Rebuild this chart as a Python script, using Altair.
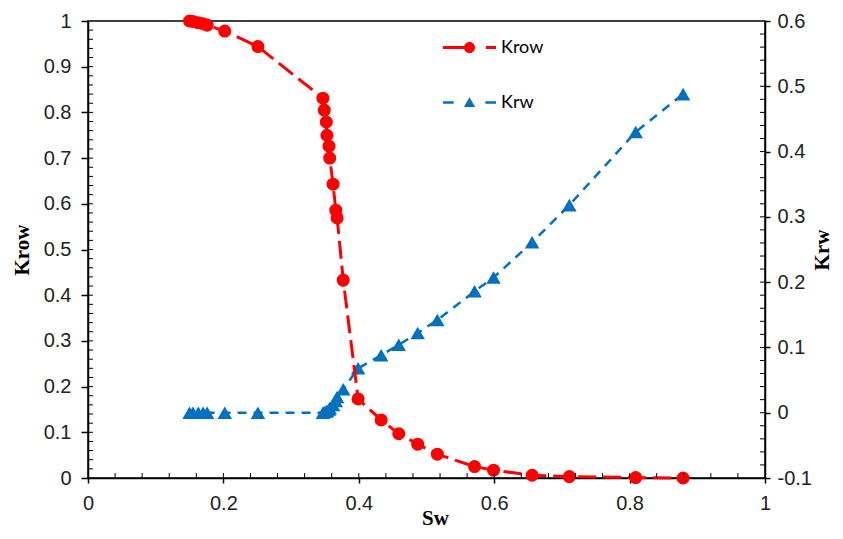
import altair as alt
import pandas as pd

# ---- data ----
sw = [0.150, 0.155, 0.163, 0.170, 0.176, 0.202, 0.251, 0.347, 0.349, 0.352,
      0.353, 0.356, 0.357, 0.362, 0.366, 0.368, 0.377, 0.399, 0.433, 0.459,
      0.487, 0.516, 0.571, 0.599, 0.656, 0.711, 0.809, 0.879]
krow = [1.0, 0.999, 0.996, 0.994, 0.991, 0.978, 0.944, 0.831, 0.805, 0.779,
        0.750, 0.726, 0.700, 0.643, 0.586, 0.569, 0.433, 0.173, 0.127, 0.097,
        0.074, 0.052, 0.025, 0.017, 0.006, 0.003, 0.001, 0.0]
krw = [0.0, 0.0, 0.0, 0.0, 0.0, 0.0, 0.0, 0.0, 0.001, 0.002,
       0.003, 0.005, 0.007, 0.012, 0.018, 0.024, 0.036, 0.068, 0.088, 0.104,
       0.122, 0.142, 0.186, 0.207, 0.261, 0.318, 0.430, 0.488]
series_names = ["Krow", "Krw"]

x_ticks = [0, 0.2, 0.4, 0.6, 0.8, 1.0]
x_inner = [0.04, 0.08, 0.12, 0.16, 0.2, 0.24, 0.28, 0.32, 0.36, 0.4, 0.44, 0.48,
           0.52, 0.56, 0.6, 0.64, 0.68, 0.72, 0.76, 0.8, 0.84, 0.88, 0.92, 0.96]
krow_ticks = [0, 0.1, 0.2, 0.3, 0.4, 0.5, 0.6, 0.7, 0.8, 0.9, 1.0]
krow_inner = [0.02, 0.04, 0.06, 0.08, 0.1, 0.12, 0.14, 0.16, 0.18, 0.2, 0.22, 0.24,
              0.26, 0.28, 0.3, 0.32, 0.34, 0.36, 0.38, 0.4, 0.42, 0.44, 0.46, 0.48,
              0.5, 0.52, 0.54, 0.56, 0.58, 0.6, 0.62, 0.64, 0.66, 0.68, 0.7, 0.72,
              0.74, 0.76, 0.78, 0.8, 0.82, 0.84, 0.86, 0.88, 0.9, 0.92, 0.94,
              0.96, 0.98]
krw_ticks = [-0.1, 0, 0.1, 0.2, 0.3, 0.4, 0.5, 0.6]
krw_inner = [-0.08, -0.06, -0.04, -0.02, 0.0, 0.02, 0.04, 0.06, 0.08, 0.1, 0.12,
             0.14, 0.16, 0.18, 0.2, 0.22, 0.24, 0.26, 0.28, 0.3, 0.32, 0.34,
             0.36, 0.38, 0.4, 0.42, 0.44, 0.46, 0.48, 0.5, 0.52, 0.54, 0.56, 0.58]

RED = "#FF0000"
BLUE = "#0070C0"
W, H = 677, 457

df = pd.DataFrame({"Sw": sw, "Krow": krow, "Krw": krw})

# legend symbols: dash + marker + dash (unit coordinates)
path_row = ("M-1,-0.057H-0.2V0.057H-1Z "
            "M0.62,-0.057H1V0.057H0.62Z "
            "M-0.21,0A0.21,0.21,0,1,1,0.21,0A0.21,0.21,0,1,1,-0.21,0Z")
path_rw = ("M-1,-0.05H-0.6V0.05H-1Z "
           "M0.6,-0.05H1V0.05H0.6Z "
           "M-0.21,0.17L0,-0.2L0.21,0.17Z")

hyphen_labels = "replace(format(datum.value, '.1~f'), '\u2212', '-')"

x_enc = alt.X("Sw:Q", scale=alt.Scale(domain=[0, 1], nice=False, zero=False),
              axis=alt.Axis(values=x_ticks, format=".1~f", tickSize=5,
                            labelPadding=10, title="Sw", titleX=347, titleY=46,
                            titleAlign="center", titleBaseline="alphabetic",
                            labelFlush=False, labelOverlap=False))

y_row = alt.Y("Krow:Q", scale=alt.Scale(domain=[0, 1], nice=False),
              axis=alt.Axis(orient="left", values=krow_ticks, format=".1~f",
                            tickSize=7, labelPadding=10, title="Krow",
                            titleX=-66, titleBaseline="middle", titleAlign="center",
                            labelFlush=False, labelOverlap=False))

y_rw = alt.Y("Krw:Q", scale=alt.Scale(domain=[-0.1, 0.6], nice=False, zero=False),
             axis=alt.Axis(orient="right", values=krw_ticks, labelExpr=hyphen_labels,
                           tickSize=5, labelPadding=7, title="Krw",
                           titleAngle=270, titleX=57, titleBaseline="middle",
                           titleAlign="center",
                           labelFlush=False, labelOverlap=False))

base = alt.Chart(df)

red_line = base.mark_line(color=RED, strokeWidth=3, strokeDash=[18, 7]).encode(
    x=x_enc, y=y_row)
red_pts = base.mark_point(shape="circle", filled=True, size=170, color=RED, opacity=1).encode(
    x=x_enc, y=y_row)

left_inner = alt.Chart(pd.DataFrame({"Krow": krow_inner})).mark_rule(
    color="black", strokeWidth=1).encode(
    y=y_row, x=alt.value(0), x2=alt.value(5))
x_inner_rules = alt.Chart(pd.DataFrame({"Sw": x_inner})).mark_rule(
    color="black", strokeWidth=1).encode(
    x=x_enc, y=alt.value(H), y2=alt.value(H - 5))

blue_line = base.mark_line(color=BLUE, strokeWidth=2.5, strokeDash=[9, 7]).encode(
    x=x_enc, y=y_rw)
blue_pts = base.mark_point(shape="triangle-up", filled=True, size=210, color=BLUE, opacity=1).encode(
    x=x_enc, y=y_rw)
right_inner = alt.Chart(pd.DataFrame({"Krw": krw_inner})).mark_rule(
    color="black", strokeWidth=1).encode(
    y=y_rw, x=alt.value(W), x2=alt.value(W - 5))

leg = dict(orient="none", legendX=355, legendY=0, padding=0, title=None,
           symbolSize=2809, symbolStrokeWidth=0, labelFont="Lato",
           labelFontSize=18, labelColor="black", labelOffset=5, rowPadding=19,
           direction="vertical")
legend_layer = alt.Chart(pd.DataFrame({"series": series_names})).transform_filter(
    "false").mark_point(filled=True, opacity=1).encode(
    color=alt.Color("series:N", scale=alt.Scale(domain=series_names, range=[RED, BLUE]),
                    legend=alt.Legend(**leg)),
    shape=alt.Shape("series:N", scale=alt.Scale(domain=series_names, range=[path_row, path_rw]),
                    legend=alt.Legend(**leg)))

krw_group = alt.layer(blue_line, blue_pts, right_inner)
krow_group = alt.layer(red_line, red_pts, left_inner, x_inner_rules)

chart = alt.layer(krw_group, krow_group, legend_layer).resolve_scale(
    y="independent"
).properties(
    width=W, height=H,
    autosize=alt.AutoSizeParams(type="none"),
    padding={"left": 80, "top": 13, "right": 70, "bottom": 53},
).configure_view(
    stroke="black", strokeWidth=1.5
).configure_axis(
    grid=False, domainColor="black", domainWidth=1.5, tickColor="black",
    tickWidth=1.5, labelColor="#222222", labelFont="Liberation Sans",
    labelFontSize=20, titleFont="Liberation Serif", titleFontSize=21,
    titleFontWeight="bold", titleColor="black"
)

chart.save("out.html", embed_options={"renderer": "svg", "actions": False})
